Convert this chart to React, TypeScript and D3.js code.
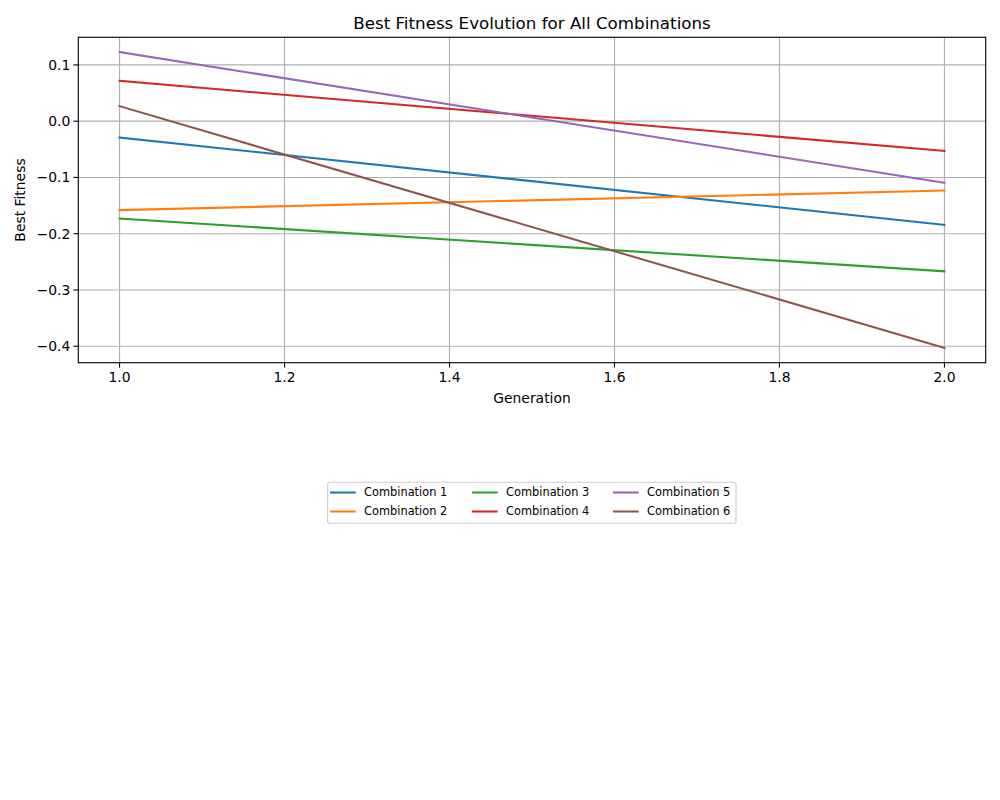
import React from "react";
import * as d3 from "d3";

const generations = [1, 2];
const seriesNames = ["Combination 1", "Combination 2", "Combination 3", "Combination 4", "Combination 5", "Combination 6"];
const combo1 = [-0.029, -0.1843];
const combo2 = [-0.158, -0.1233];
const combo3 = [-0.173, -0.2669];
const combo4 = [0.0717, -0.0528];
const combo5 = [0.1228, -0.1097];
const combo6 = [0.0267, -0.403];
const seriesValues = [combo1, combo2, combo3, combo4, combo5, combo6];
const colors = ["#1f77b4", "#ff7f0e", "#2ca02c", "#d62728", "#9467bd", "#8c564b"];
const xTicks = [1.0, 1.2, 1.4, 1.6, 1.8, 2.0];
const yTicks = [-0.4, -0.3, -0.2, -0.1, 0.0, 0.1];

const W = 1000, H = 800;
const L = 78.3, R = 985.7, T = 37.3, B = 362.7;
const font = "DejaVu Sans, sans-serif";

export default function App() {
  const all = seriesValues.flat();
  const ymin = d3.min(all)!, ymax = d3.max(all)!;
  const ym = (ymax - ymin) * 0.05;
  const x = d3.scaleLinear().domain([0.95, 2.05]).range([L, R]);
  const y = d3.scaleLinear().domain([ymin - ym, ymax + ym]).range([B, T]);
  const line = d3.line<number>().x((_, i) => x(generations[i])).y((d) => y(d));
  const fmtY = (v: number) => (Math.abs(v) < 1e-9 ? "0.0" : v.toFixed(1).replace("-", "\u2212"));

  const legX = 327.7, legY = 482.3, legW = 408.3, legH = 41;
  const colX = [330, 472, 613];
  const rowY = [492.5, 511.5];

  return (
    <svg width={W} height={H} style={{ position: "absolute", left: 0, top: 0, background: "#fff" }} fontFamily={font}>
      <rect x={0} y={0} width={W} height={H} fill="#fff" />
      {xTicks.map((t) => (
        <line key={"gx" + t} x1={x(t)} x2={x(t)} y1={T} y2={B} stroke="#b0b0b0" strokeWidth={1.11} />
      ))}
      {yTicks.map((t) => (
        <line key={"gy" + t} x1={L} x2={R} y1={y(t)} y2={y(t)} stroke="#b0b0b0" strokeWidth={1.11} />
      ))}
      {seriesValues.map((s, i) => (
        <path key={i} d={line(s)!} fill="none" stroke={colors[i]} strokeWidth={2.08} strokeLinecap="square" />
      ))}
      <rect x={L} y={T} width={R - L} height={B - T} fill="none" stroke="#000" strokeWidth={1.11} />
      {xTicks.map((t) => (
        <g key={"tx" + t}>
          <line x1={x(t)} x2={x(t)} y1={B} y2={B + 4.9} stroke="#000" strokeWidth={1.11} />
          <text x={x(t)} y={B + 19} fontSize={13.9} textAnchor="middle" fill="#000">{t.toFixed(1)}</text>
        </g>
      ))}
      {yTicks.map((t) => (
        <g key={"ty" + t}>
          <line x1={L - 4.9} x2={L} y1={y(t)} y2={y(t)} stroke="#000" strokeWidth={1.11} />
          <text x={L - 8} y={y(t)} dy="0.35em" fontSize={13.9} textAnchor="end" fill="#000">{fmtY(t)}</text>
        </g>
      ))}
      <text x={(L + R) / 2} y={29} fontSize={16.7} textAnchor="middle" fill="#000">Best Fitness Evolution for All Combinations</text>
      <text x={(L + R) / 2} y={403} fontSize={13.9} textAnchor="middle" fill="#000">Generation</text>
      <text transform={`translate(25,${(T + B) / 2}) rotate(-90)`} fontSize={13.9} textAnchor="middle" fill="#000">Best Fitness</text>
      <rect x={legX} y={legY} width={legW} height={legH} rx={2} fill="#fff" fillOpacity={0.8} stroke="#cccccc" strokeWidth={1.11} />
      {seriesNames.map((n, i) => {
        const col = Math.floor(i / 2), row = i % 2;
        const lx = colX[col], ly = rowY[row];
        return (
          <g key={n}>
            <line x1={lx} x2={lx + 25.7} y1={ly} y2={ly} stroke={colors[i]} strokeWidth={2.08} />
            <text x={lx + 34} y={ly} dy="0.35em" fontSize={11.4} fill="#000">{n}</text>
          </g>
        );
      })}
    </svg>
  );
}
